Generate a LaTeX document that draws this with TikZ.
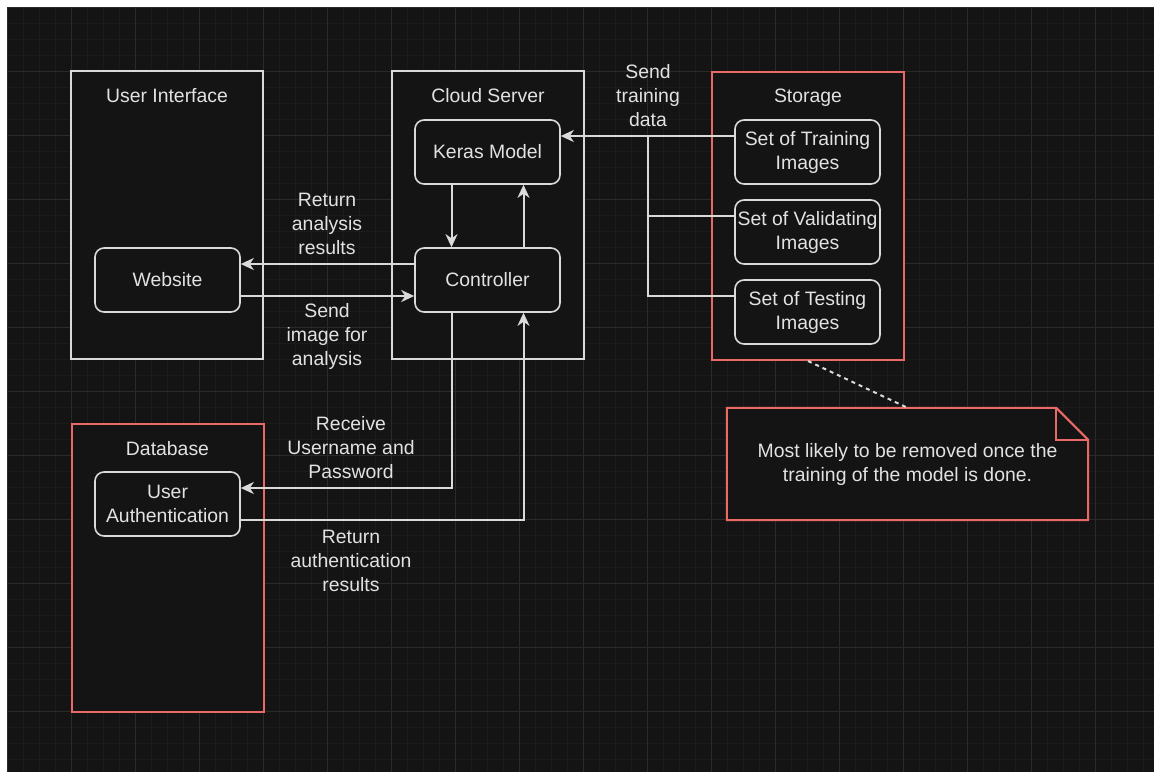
\documentclass[tikz,border=0pt]{standalone}
\usepackage{fontspec}
\setmainfont{Liberation Sans}
\usetikzlibrary{arrows.meta}
\definecolor{bg}{HTML}{141414}
\definecolor{gridminor}{HTML}{1B1B1B}
\definecolor{gridmajor}{HTML}{2A2A2A}
\definecolor{fg}{HTML}{E2E2E2}
\definecolor{strokecol}{HTML}{DADADA}
\definecolor{redline}{HTML}{EA6B66}
\begin{document}
\begin{tikzpicture}[x=1pt,y=-1pt,
  every node/.style={font=\fontsize{19.4pt}{24pt}\selectfont, text=fg},
  container/.style={draw=strokecol, line width=2pt, fill=bg, minimum width=192pt, minimum height=288pt, inner sep=0pt},
  redcontainer/.style={container, draw=redline},
  item/.style={draw=strokecol, line width=1.6pt, fill=bg, rounded corners=9pt, minimum width=145pt, minimum height=64pt, inner sep=0pt, align=center},
  lbl/.style={align=center, inner sep=0pt},
  title/.style={anchor=base, inner sep=0pt},
  edge/.style={draw=strokecol, line width=2pt, -{Stealth[length=13pt,width=12pt,inset=4pt]}},
  plain/.style={draw=strokecol, line width=2pt}
]
\useasboundingbox (0,0) rectangle (1154,772);
\fill[white] (0,0) rectangle (1154,772);
\fill[bg] (7,7) rectangle (1154,772);
\foreach \x in {7,23,...,1154} \draw[gridminor, line width=1pt] (\x,7) -- (\x,772);
\foreach \y in {7,23,...,772} \draw[gridminor, line width=1pt] (7,\y) -- (1154,\y);
\foreach \x in {7,71,...,1154} \draw[gridmajor, line width=1pt] (\x,7) -- (\x,772);
\foreach \y in {7,71,...,772} \draw[gridmajor, line width=1pt] (7,\y) -- (1154,\y);

% containers
\node[container] (ui) at (167,215) {};
\node[container] (cs) at (488,215) {};
\node[redcontainer] (st) at (808,216) {};
\node[redcontainer] (db) at (167.5,568) {};

\node[title] (uit) at (167,102.5) {User Interface};
\node[title] (cst) at (488,102.5) {Cloud Server};
\node[title] (stt) at (808,102.5) {Storage};
\node[title] (dbt) at (167.5,455) {Database};

% items
\node[item] (keras) at (487.5,152) {Keras Model};
\node[item] (ctrl) at (487.5,280) {Controller};
\node[item] (web) at (167.5,280) {Website};
\node[item] (auth) at (167.5,504) {User\\Authentication};
\node[item] (train) at (807.5,152) {Set of Training\\Images};
\node[item] (valid) at (807.5,232) {Set of Validating\\Images};
\node[item] (test) at (807.5,312) {Set of Testing\\Images};

% note
\node[minimum width=361pt, minimum height=112pt, inner sep=0pt] (note) at (907.5,464) {};
\draw[redline, line width=2pt, fill=bg] (note.north west) -- ([xshift=-32pt]note.north east) -- ([yshift=-32pt]note.north east) -- (note.south east) -- (note.south west) -- cycle;
\draw[redline, line width=2pt] ([xshift=-32pt]note.north east) -- ([xshift=-32pt,yshift=-32pt]note.north east) -- ([yshift=-32pt]note.north east);
\node[lbl] (notetext) at (note.center) {Most likely to be removed once the\\training of the model is done.};

% connectors
\draw[edge] ([yshift=16pt]ctrl.west) -- ([yshift=16pt]web.east);
\draw[edge] ([yshift=-16pt]web.east) -- ([yshift=-16pt]ctrl.west);
\draw[edge] ([xshift=-36pt]keras.south) -- ([xshift=-36pt]ctrl.north);
\draw[edge] ([xshift=36pt]ctrl.north) -- ([xshift=36pt]keras.south);
\draw[edge] ([xshift=-36pt]ctrl.south) |- ([yshift=16pt]auth.east);
\draw[edge] ([yshift=-16pt]auth.east) -| ([xshift=36pt]ctrl.south);

\coordinate (j1) at (648,136);
\draw[edge] ([yshift=16pt]train.west) -- ([yshift=16pt]keras.east);
\draw[plain] ([yshift=16pt]valid.west) -| (j1);
\draw[plain] ([yshift=16pt]test.west) -| (j1);

\draw[draw=strokecol, line width=2pt, dash pattern=on 4pt off 4pt] (st.south) -- (note.north);

% labels
\node[lbl] (l1) at (327,224) {Return\\analysis\\results};
\node[lbl] (l2) at (327,336) {Send\\image for\\analysis};
\node[lbl] (l3) at (351,448) {Receive\\Username and\\Password};
\node[lbl] (l4) at (351,561) {Return\\authentication\\results};
\node[lbl] (l5) at (648,96) {Send\\training\\data};
\end{tikzpicture}
\end{document}
